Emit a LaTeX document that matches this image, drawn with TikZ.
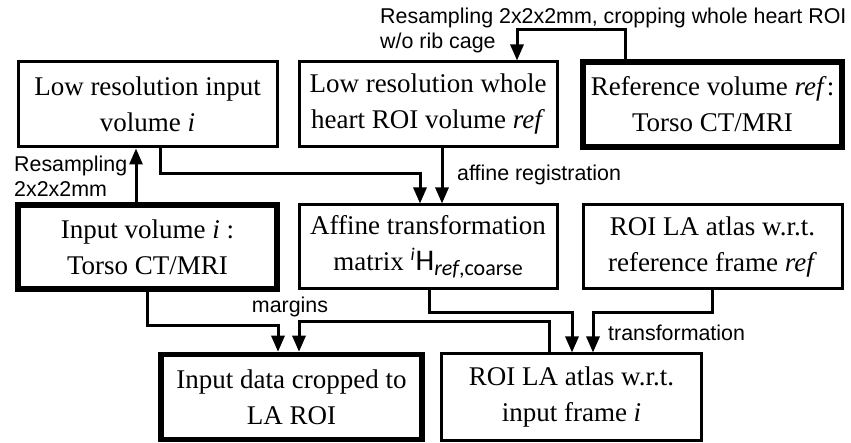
\documentclass[tikz,border=0pt]{standalone}
\usepackage{fontspec}
\setmainfont{Liberation Serif}
\newfontfamily\lsans{Liberation Sans}
\newfontfamily\hfont{Carlito}
\usetikzlibrary{arrows.meta}
\tikzset{
  box/.style={draw, line width=3pt, align=center, inner sep=0pt,
    font=\fontsize{27}{36}\selectfont},
  thickbox/.style={box, line width=5.5pt},
  arr/.style={line width=3pt, -{Triangle[length=16pt,width=13pt]}},
  lab/.style={font=\lsans\fontsize{21.4}{25}\selectfont, inner sep=0pt, align=left}
}
\begin{document}
\begin{tikzpicture}[x=1pt,y=-1pt]
\useasboundingbox (0,0) rectangle (851,443);
% row 1
\node[box, minimum width=259pt, minimum height=85pt] (lowin) at (147.5,104.5)
  {Low resolution input\\volume \textit{i}};
\node[box, minimum width=258pt, minimum height=85pt] (lowref) at (428,104.5)
  {Low resolution whole\\heart ROI volume \textit{ref}};
\node[thickbox, minimum width=259pt, minimum height=85pt] (refvol) at (712.5,104.5)
  {Reference volume \textit{ref}:\\Torso CT/MRI};
% row 2
\node[thickbox, minimum width=259pt, minimum height=84pt] (input) at (147.5,247)
  {Input volume \textit{i} :\\Torso CT/MRI};
\node[box, minimum width=258pt, minimum height=84pt] (affine) at (428,247)
  {Affine transformation\\matrix\ {\hfont\fontsize{18}{18}\selectfont\raisebox{10pt}{\itshape i}}\kern1pt{\hfont\fontsize{30}{30}\selectfont H}\raisebox{-5pt}{\hfont\fontsize{22}{22}\selectfont\textit{ref},coarse}};
\node[box, minimum width=259pt, minimum height=84pt] (atlasref) at (712.5,247)
  {ROI LA atlas w.r.t.\\reference frame \textit{ref}};
% row 3
\node[thickbox, minimum width=261pt, minimum height=85pt] (cropped) at (291.5,397)
  {Input data cropped to\\LA ROI};
\node[box, minimum width=260pt, minimum height=86pt] (atlasin) at (571.5,397)
  {ROI LA atlas w.r.t.\\input frame \textit{i}};
% connectors
\draw[arr] ([xshift=-11.5pt]input.north) -- ([xshift=-11.5pt]lowin.south);
\node[lab, anchor=west] (l1) at (14,176) {Resampling\\2x2x2mm};
\draw[arr] ([xshift=12.5pt]lowin.south) -- ++(0,25) -| ([xshift=-8pt]affine.north);
\draw[arr] ([xshift=14pt]lowref.south) -- ([xshift=14pt]affine.north);
\node[lab, anchor=west] (l2) at (457,175) {affine registration};
\draw[arr] ([xshift=-87.5pt]refvol.north) -- ++(0,-30) -| ([xshift=89pt]lowref.north);
\node[lab, anchor=west] (l3) at (380,30) {Resampling 2x2x2mm, cropping whole heart ROI\\w/o rib cage};
\draw[arr] (input.south) -- ++(0,34) -| ([xshift=-13.5pt]cropped.north);
\draw[arr] ([xshift=-22.5pt]atlasin.north) -- ++(0,-31) -| ([xshift=7.5pt]cropped.north);
\node[lab] (l4) at (290,307) {margins};
\draw[arr] ([xshift=1pt]affine.south) -- ++(0,22) -| ([xshift=0.5pt]atlasin.north);
\draw[arr] (atlasref.south) -- ++(0,22) -| ([xshift=21.5pt]atlasin.north);
\node[lab, anchor=west] (l5) at (608,333) {transformation};
\end{tikzpicture}
\end{document}
